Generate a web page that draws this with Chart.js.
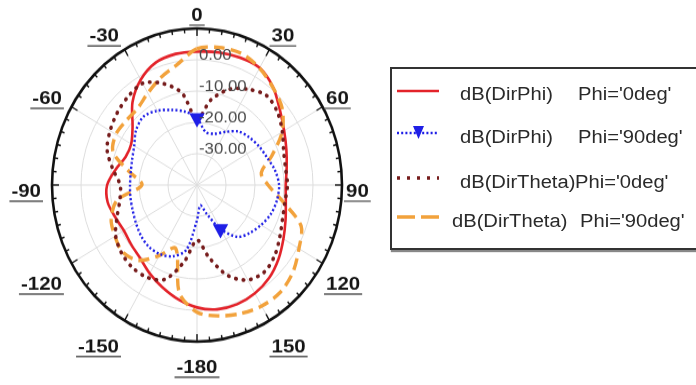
<!DOCTYPE html>
<html>
<head>
<meta charset="utf-8">
<script src="https://cdn.jsdelivr.net/npm/chart.js@4.4.1/dist/chart.umd.min.js"></script>
<style>
  html, body { margin: 0; padding: 0; background: #fff; width: 696px; height: 385px; overflow: hidden; }
  #plot { position: absolute; left: 0; top: 0; width: 394px; height: 370px;
          transform: scaleY(1.08); transform-origin: 0 185px; }
  #legend { position: absolute; left: 390px; top: 67px; width: 310px; height: 179px;
            border: 2px solid #333; background: #fff; box-shadow: 1px 2px 1px #888;
            font-family: "Liberation Sans", Arial, sans-serif; font-size: 18px; color: #2a2a2a; }
  #legend span { position: absolute; white-space: nowrap; line-height: 22px;
                 transform: scaleX(1.12); transform-origin: 0 50%; }
  #legend svg { position: absolute; }
</style>
</head>
<body>
<div id="plot"><canvas id="c" width="394" height="370"></canvas></div>
<div id="legend"></div>
<script>
// Theta positions (degrees, clockwise from the top) of every sample
const angles = [0, 10, 20, 30, 40, 50, 60, 70, 80, 90, 100, 110, 120, 130, 140, 150, 160, 170,
                180, 190, 200, 210, 220, 230, 240, 250, 260, 270, 280, 290, 300, 310, 320, 330, 340, 350];

// Directivity in dB at each theta above
const dirPhi0 = [2.6, 3.0, 3.3, 3.2, 0.8, -2.7, -5.3, -7.2, -8.6, -9.4, -8.9, -7.5, -5.6, -3.3, -1.3, -0.1, 0.5, 0.3,
                 -0.9, -2.9, -5.2, -7.4, -9.5, -10.4, -10.9, -10.0, -8.7, -9.0, -11.5, -13.8, -13.8, -11.0, -5.4, -1.2, 1.6, 2.5];
const dirPhi90 = [-18.6, -22.8, -22.6, -20.4, -17.7, -16.4, -15.3, -14.3, -12.7, -11.7, -12.0, -12.9, -14.5, -16.2, -18.4, -23.8, -30.2, -33.4,
                  -28.8, -19.0, -15.8, -14.5, -14.2, -14.8, -15.7, -16.4, -16.7, -16.9, -16.8, -16.2, -15.0, -12.6, -11.4, -12.6, -14.5, -16.2];
const dirTheta0 = [-19.0, -12.4, -7.5, -4.7, -2.7, -3.8, -6.0, -8.2, -9.0, -8.8, -9.2, -8.6, -7.0, -5.0, -3.8, -5.0, -9.3, -16.6,
                   -22.4, -15.3, -8.0, -5.9, -5.5, -6.1, -7.6, -10.7, -13.0, -13.5, -10.5, -7.0, -5.4, -4.1, -3.1, -2.5, -5.5, -10.2];
const dirTheta90 = [3.5, 4.6, 4.7, 3.1, 0.7, -1.7, -6.1, -12.5, -17.5, -15.5, -10.0, -1.8, 0.6, 3.2, 4.7, 4.6, 3.7, 2.4,
                    0.6, -5.0, -18.5, -14.0, -8.6, -6.6, -7.3, -8.5, -12.0, -21.0, -16.5, -9.2, -7.7, -8.1, -8.1, -6.1, -3.5, -0.9];

// Axis text
const angleTicks = ['0', '30', '60', '90', '120', '150', '-180', '-150', '-120', '-90', '-60', '-30'];
const ringValues = [0, -10, -20, -30];
const ringLabels = ['0.00', '-10.00', '-20.00', '-30.00'];

// Series names, split where the legend puts its gap
const seriesQty = ['dB(DirPhi)', 'dB(DirPhi)', 'dB(DirTheta)', 'dB(DirTheta)'];
const seriesCut = ["Phi='0deg'", "Phi='90deg'", "Phi='0deg'", "Phi='90deg'"];

// Samples that carry the triangle marker on the Phi='90deg' DirPhi trace
const markerIdx = [0, 15];

const RED = '#e3232a', BLUE = '#1f1fe6', BROWN = '#761c1c', ORANGE = '#f2a23c';

function stretchedText(ctx, txt, x, y, align, sx) {
  const w = ctx.measureText(txt).width * sx;
  const left = align === 'left' ? x : (align === 'right' ? x - w : x - w / 2);
  ctx.save();
  ctx.translate(left, y);
  ctx.scale(sx, 1);
  ctx.textAlign = 'left';
  ctx.fillText(txt, 0, 0);
  ctx.restore();
  return { left, w };
}

const polarFrame = {
  id: 'polarFrame',
  afterDraw(chart) {
    const s = chart.scales.r;
    const ctx = chart.ctx;
    const R = s.drawingArea, xC = s.xCenter, yC = s.yCenter;
    const step = 360 / angles.length;
    ctx.save();

    // outer boundary with tick marks
    ctx.strokeStyle = '#111';
    ctx.lineWidth = 2.6;
    ctx.beginPath();
    ctx.arc(xC, yC, R, 0, Math.PI * 2);
    ctx.stroke();
    ctx.lineWidth = 1.4;
    for (let d = 0; d < 360; d += 5) {
      const len = d % 30 === 0 ? 7 : 4;
      const p1 = s.getPointPosition(d / step, R);
      const p2 = s.getPointPosition(d / step, R - len);
      ctx.beginPath();
      ctx.moveTo(p1.x, p1.y);
      ctx.lineTo(p2.x, p2.y);
      ctx.stroke();
    }

    // ring values along the vertical axis
    ctx.font = '15px "Liberation Sans", Arial, sans-serif';
    ctx.fillStyle = '#4a4a4a';
    ctx.textBaseline = 'middle';
    ringValues.forEach((v, i) => {
      const d = s.getDistanceFromCenterForValue(v);
      stretchedText(ctx, ringLabels[i], xC + 2, yC - d - 4, 'left', 1.12);
    });

    // underlined theta labels around the boundary
    ctx.font = 'bold 16.5px "Liberation Sans", Arial, sans-serif';
    ctx.fillStyle = '#151515';
    ctx.strokeStyle = '#555';
    ctx.lineWidth = 1.3;
    angleTicks.forEach((txt, k) => {
      const a = s.getIndexAngle(k * 3);
      const sn = Math.sin(a), cs = Math.cos(a);
      let align = 'center', x = xC;
      if (sn > 0.05) { align = 'left'; x = xC + (R + 4) * sn; }
      else if (sn < -0.05) { align = 'right'; x = xC + (R + 11) * sn; }
      const rv = R + 18 + 12 * sn * sn;
      const y = yC + 6.5 - rv * cs;
      const box = stretchedText(ctx, txt, x, y, align, 1.24);
      ctx.beginPath();
      ctx.moveTo(box.left - 2, y + 8.5);
      ctx.lineTo(box.left + box.w + 2, y + 8.5);
      ctx.stroke();
    });
    ctx.restore();
  }
};

const common = { fill: false, backgroundColor: 'transparent', tension: 0.3, pointRadius: 0, pointHoverRadius: 0 };

new Chart(document.getElementById('c'), {
  type: 'radar',
  data: {
    labels: angles.map(String),
    datasets: [
      Object.assign({}, common, { label: seriesQty[0] + ' ' + seriesCut[0], data: dirPhi0,
        borderColor: RED, borderWidth: 2.6, order: 4 }),
      Object.assign({}, common, { label: seriesQty[1] + ' ' + seriesCut[1], data: dirPhi90,
        borderColor: BLUE, borderWidth: 2.4, borderDash: [2, 2.2], order: 1,
        pointRadius: ctx => markerIdx.includes(ctx.dataIndex) ? 6.5 : 0,
        pointStyle: 'triangle', pointRotation: 180,
        pointBackgroundColor: BLUE, pointBorderColor: BLUE }),
      Object.assign({}, common, { label: seriesQty[2] + ' ' + seriesCut[2], data: dirTheta0,
        borderColor: BROWN, borderWidth: 3.6, borderDash: [0.5, 7], borderCapStyle: 'round', order: 2 }),
      Object.assign({}, common, { label: seriesQty[3] + ' ' + seriesCut[3], data: dirTheta90,
        borderColor: ORANGE, borderWidth: 3.4, borderDash: [11, 6], order: 3 })
    ]
  },
  options: {
    responsive: false,
    animation: false,
    devicePixelRatio: 1,
    layout: { padding: { left: 52, right: 52, top: 40, bottom: 40 } },
    plugins: { legend: { display: false }, tooltip: { enabled: false } },
    scales: {
      r: {
        min: -40, max: 10,
        ticks: { stepSize: 10, display: false },
        pointLabels: { display: false },
        grid: { circular: true, color: '#dddddd', lineWidth: 1 },
        angleLines: { color: '#dddddd', lineWidth: ctx => ctx.index % 3 === 0 ? 1 : 0 }
      }
    }
  },
  plugins: [polarFrame]
});

// Legend box
(function buildLegend() {
  const box = document.getElementById('legend');
  const sampleY = [22, 64, 109, 148];
  const textY = [25, 68, 113, 152];
  const qtyX = [68, 68, 68, 60];
  const cutX = [186, 186, 183, 188];
  const svgNS = 'http://www.w3.org/2000/svg';
  const strokes = [
    { c: RED, w: 2.5, dash: null, cap: 'butt' },
    { c: BLUE, w: 2.4, dash: '2 2.2', cap: 'butt' },
    { c: BROWN, w: 3.4, dash: '3 7', cap: 'butt' },
    { c: ORANGE, w: 3.4, dash: '18 6', cap: 'butt' }
  ];
  strokes.forEach((st, i) => {
    const svg = document.createElementNS(svgNS, 'svg');
    svg.setAttribute('width', '44');
    svg.setAttribute('height', '18');
    svg.style.left = '5px';
    svg.style.top = (sampleY[i] - 9) + 'px';
    const ln = document.createElementNS(svgNS, 'line');
    ln.setAttribute('x1', '0'); ln.setAttribute('y1', '9');
    ln.setAttribute('x2', '42'); ln.setAttribute('y2', '9');
    ln.setAttribute('stroke', st.c);
    ln.setAttribute('stroke-width', st.w);
    ln.setAttribute('stroke-linecap', st.cap);
    if (st.dash) ln.setAttribute('stroke-dasharray', st.dash);
    svg.appendChild(ln);
    if (i === 1) {
      const tri = document.createElementNS(svgNS, 'polygon');
      tri.setAttribute('points', '16,2 27,2 21.5,15');
      tri.setAttribute('fill', BLUE);
      svg.appendChild(tri);
    }
    box.appendChild(svg);

    const a = document.createElement('span');
    a.textContent = seriesQty[i];
    a.style.left = qtyX[i] + 'px';
    a.style.top = (textY[i] - 11) + 'px';
    box.appendChild(a);
    const b = document.createElement('span');
    b.textContent = seriesCut[i];
    b.style.left = cutX[i] + 'px';
    b.style.top = (textY[i] - 11) + 'px';
    box.appendChild(b);
  });
})();
</script>
</body>
</html>
